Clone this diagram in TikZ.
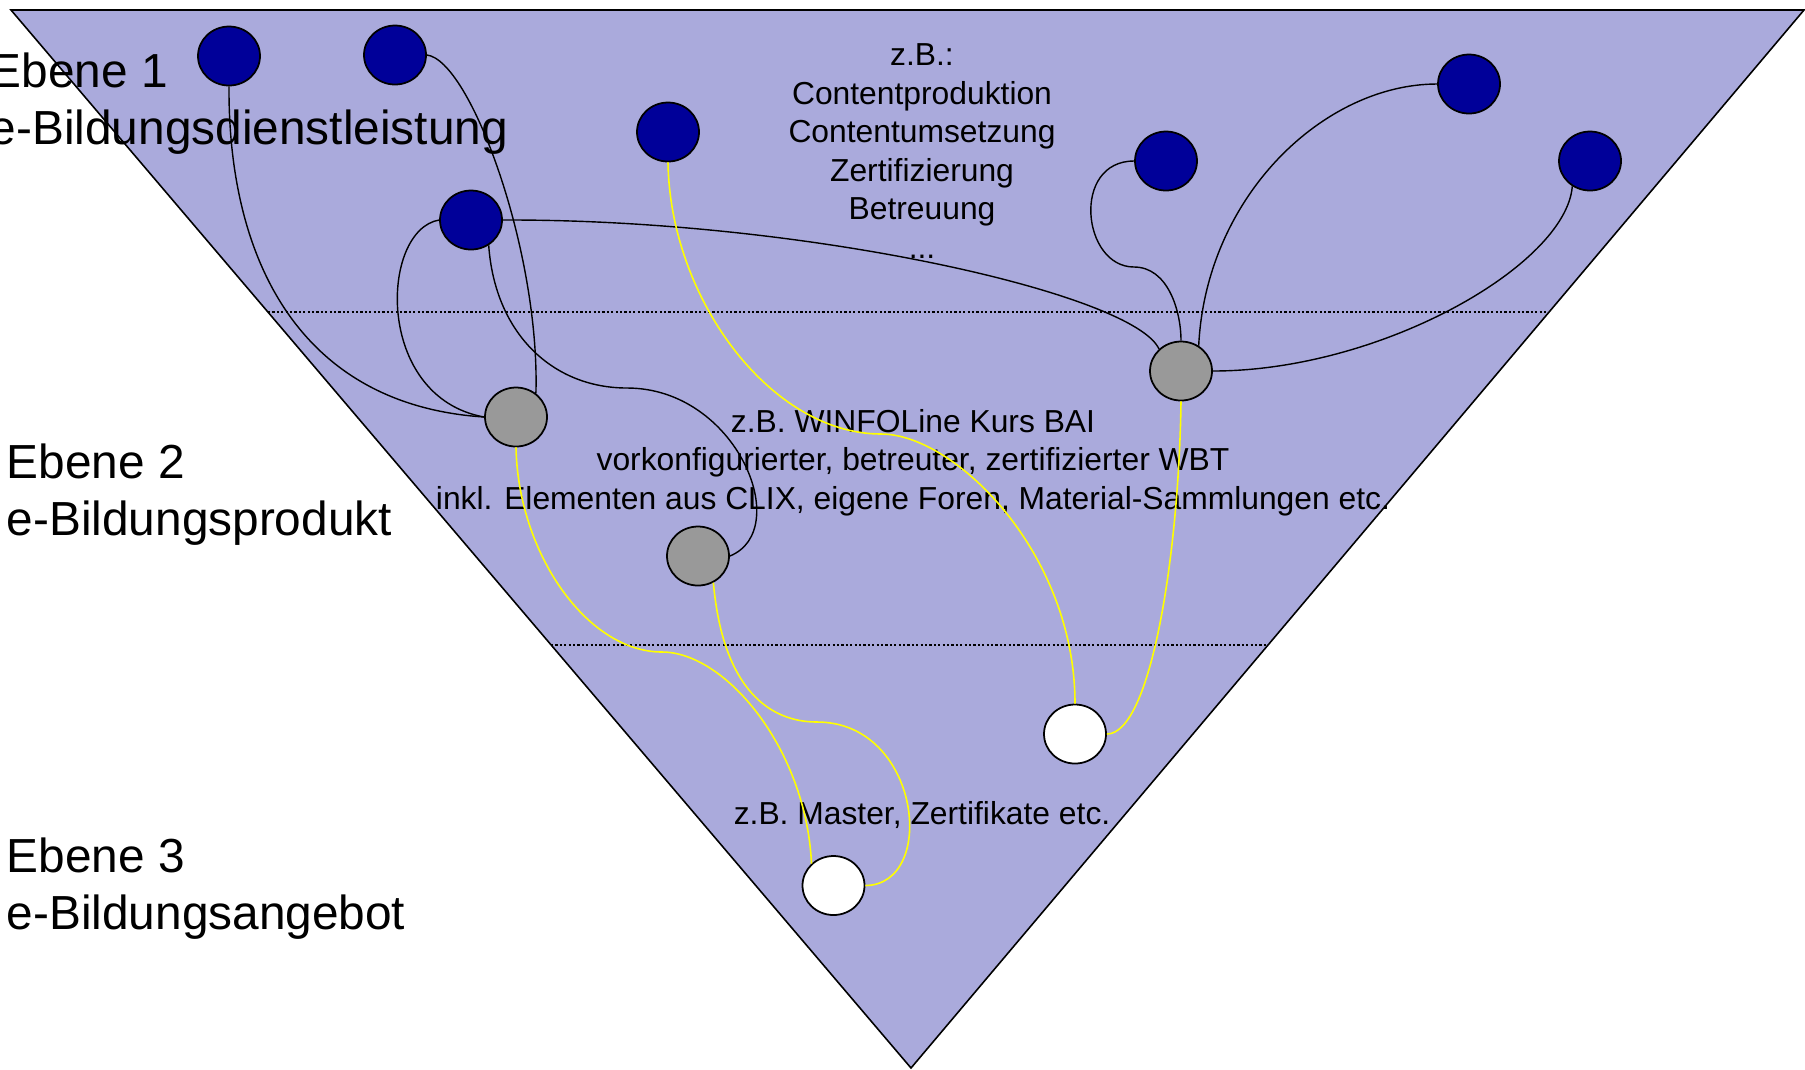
\documentclass[tikz,border=0pt]{standalone}
\usepackage{fontspec}
\setmainfont{Liberation Sans}
\usetikzlibrary{shapes.geometric}
\definecolor{trifill}{RGB}{170,170,220}
\definecolor{nodeblue}{RGB}{0,0,153}
\definecolor{nodegray}{RGB}{153,153,153}
\definecolor{linkyellow}{RGB}{255,255,0}
\begin{document}
\begin{tikzpicture}[x=0.1mm,y=-0.1mm,
  ellnode/.style={ellipse, draw=black, line width=0.5pt, minimum width=6.2mm, minimum height=5.9mm, inner sep=0pt},
  svc/.style={ellnode, fill=nodeblue},
  prod/.style={ellnode, fill=nodegray},
  offer/.style={ellnode, fill=white},
  blink/.style={draw=black, line width=0.4pt},
  ylink/.style={draw=linkyellow, line width=0.45pt},
  tierline/.style={draw=black, dash pattern=on 0.22mm off 0.22mm, line width=0.35pt},
  bigtxt/.style={font=\fontsize{13.6}{16.2}\selectfont, align=left, anchor=base west, inner sep=0pt},
  smalltxt/.style={font=\fontsize{9.05}{10.95}\selectfont, align=center, anchor=base, inner sep=0pt}]
\useasboundingbox (0,0) rectangle (1805,1069);
% triangle
\path[fill=trifill, draw=black, line width=0.45pt] (11,10) -- (1804,10) -- (911,1068) -- cycle;
% level separators
\draw[tierline] (268,312) -- (1547,312);
\draw[tierline] (551,645) -- (1268,645);
% texts (base anchor = baseline of the last line)
\node[bigtxt] (lab1) at (-11,144) {Ebene 1\\e-Bildungsdienstleistung};
\node[bigtxt] (lab2) at (6,535) {Ebene 2\\e-Bildungsprodukt};
\node[bigtxt] (lab3) at (6,929) {Ebene 3\\e-Bildungsangebot};
\node[smalltxt] (txt1) at (922,258) {z.B.:\\Contentproduktion\\Contentumsetzung\\Zertifizierung\\Betreuung\\...};
\node[smalltxt] (txt2) at (913,509) {z.B. WINFOLine Kurs BAI\\vorkonfigurierter, betreuter, zertifizierter WBT\\inkl. Elementen aus CLIX, eigene Foren, Material-Sammlungen etc.};
\node[smalltxt] (txt3) at (922,824) {z.B. Master, Zertifikate etc.};
% nodes
\node[svc] (B1) at (229,56) {};
\node[svc] (B2) at (395,55) {};
\node[svc] (B3) at (668,132) {};
\node[svc] (B4) at (471,220) {};
\node[svc] (B5) at (1166,161) {};
\node[svc] (B6) at (1469,84) {};
\node[svc] (B7) at (1590,161) {};
\node[prod] (G1) at (516,417) {};
\node[prod] (G2) at (698,556) {};
\node[prod] (G3) at (1181,371) {};
\node[offer] (W1) at (1075,734) {};
\node[offer] (W2) at (833.5,885.5) {};
% black links
\draw[blink] (B1.south) .. controls (228,260) and (300,405) .. (G1.west);
\draw[blink] (B2.east) .. controls (470,60) and (540,250) .. (G1.50);
\draw[blink] (B4.west) .. controls (380,230) and (374,397) .. (G1.west);
\draw[blink] (B4.-55) .. controls (495,334) and (553,388) .. (627,388) .. controls (737,388) and (794,530) .. (G2.east);
\draw[blink] (B4.east) .. controls (806,219) and (1134,294) .. (G3.135);
\draw[blink] (B5.west) .. controls (1071,161) and (1082,267) .. (1134,267) .. controls (1168,267) and (1181,311) .. (G3.north);
\draw[blink] (B6.west) .. controls (1324,84) and (1206,196) .. (G3.55);
\draw[blink] (B7.-125) .. controls (1566,265) and (1381,371) .. (G3.east);
% yellow links
\draw[ylink] (B3.south) .. controls (670,299) and (771,434) .. (881,434) .. controls (955,434) and (1075,553) .. (W1.north);
\draw[ylink] (G3.south) .. controls (1179,553) and (1151,734) .. (W1.east);
\draw[ylink] (G1.south) .. controls (518,553) and (587,652) .. (662,652) .. controls (725,652) and (806,748) .. (W2.135);
\draw[ylink] (G2.-60) .. controls (723,691) and (771,722) .. (817,722) .. controls (921,722) and (938,885) .. (W2.east);
\end{tikzpicture}
\end{document}
